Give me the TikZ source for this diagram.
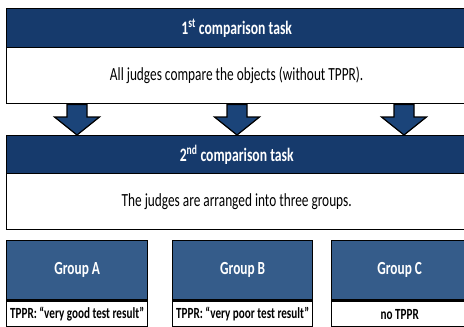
\documentclass[tikz,border=0pt]{standalone}
\usepackage{fontspec}
\setmainfont{Carlito}
\newfontfamily\slimfont[FakeStretch=0.72]{Carlito}
\usetikzlibrary{calc}

\definecolor{taskblue}{HTML}{163A6C}
\definecolor{groupblue}{HTML}{355C8A}
\definecolor{arrowblue}{HTML}{1B4479}

\begin{document}
\begin{tikzpicture}[
            x=1pt, y=-1pt,
            box/.style={
                draw=black,
                line width=1.4pt,
                anchor=north west,
                inner sep=0pt
            },
            taskhead/.style={
                box,
                fill=taskblue,
                text=white,
                minimum width=460pt,
                font=\slimfont\bfseries\fontsize{19}{19}\selectfont
            },
            taskbody/.style={
                box,
                fill=white,
                minimum width=460pt,
                minimum height=56pt,
                font=\slimfont\fontsize{18.5}{18.5}\selectfont
            },
            grouphead/.style={
                box,
                fill=groupblue,
                text=white,
                minimum height=59pt,
                font=\slimfont\bfseries\fontsize{18.5}{18.5}\selectfont
            },
            groupnote/.style={
                box,
                fill=white,
                minimum height=26pt,
                font=\slimfont\bfseries\fontsize{15.5}{15.5}\selectfont
            },
            blockarrow/.style={
                draw=black,
                line width=1.2pt,
                fill=arrowblue
            }
        ]

            \useasboundingbox (0,0) rectangle (464,327);

            % first task
            \node[taskhead, minimum height=39pt] (head1) at (6,8)
                {1\textsuperscript{st} comparison task};
            \node[taskbody] (body1) at (6,47)
                {All judges compare the objects (without TPPR).};

            % second task
            \node[taskhead, minimum height=38pt] (head2) at (6,135)
                {2\textsuperscript{nd} comparison task};
            \node[taskbody] (body2) at (6,173)
                {The judges are arranged into three groups.};

            % arrows between the tasks
            \foreach \ax in {77,237,404} {
                \draw[blockarrow] let \p1=(body1.south), \p2=(head2.north) in
                    (\ax pt-10pt, \y1) -- (\ax pt+10pt, \y1)
                    -- (\ax pt+10pt, \y2+18pt) -- (\ax pt+22.5pt, \y2+18pt)
                    -- (\ax pt, \y2) -- (\ax pt-22.5pt, \y2+18pt)
                    -- (\ax pt-10pt, \y2+18pt) -- cycle;
            }

            % the three groups
            \node[grouphead, minimum width=141pt] (ga) at (6,240) {Group A};
            \node[groupnote, minimum width=141pt] (na) at (ga.south west)
                {TPPR: “very good test result”};

            \node[grouphead, minimum width=140pt] (gb) at (172,240) {Group B};
            \node[groupnote, minimum width=140pt] (nb) at (gb.south west)
                {TPPR: “very poor test result”};

            \node[grouphead, minimum width=136pt] (gc) at (331,240) {Group C};
            \node[groupnote, minimum width=136pt] (nc) at (gc.south west)
                {no TPPR};

        \end{tikzpicture}
\end{document}
